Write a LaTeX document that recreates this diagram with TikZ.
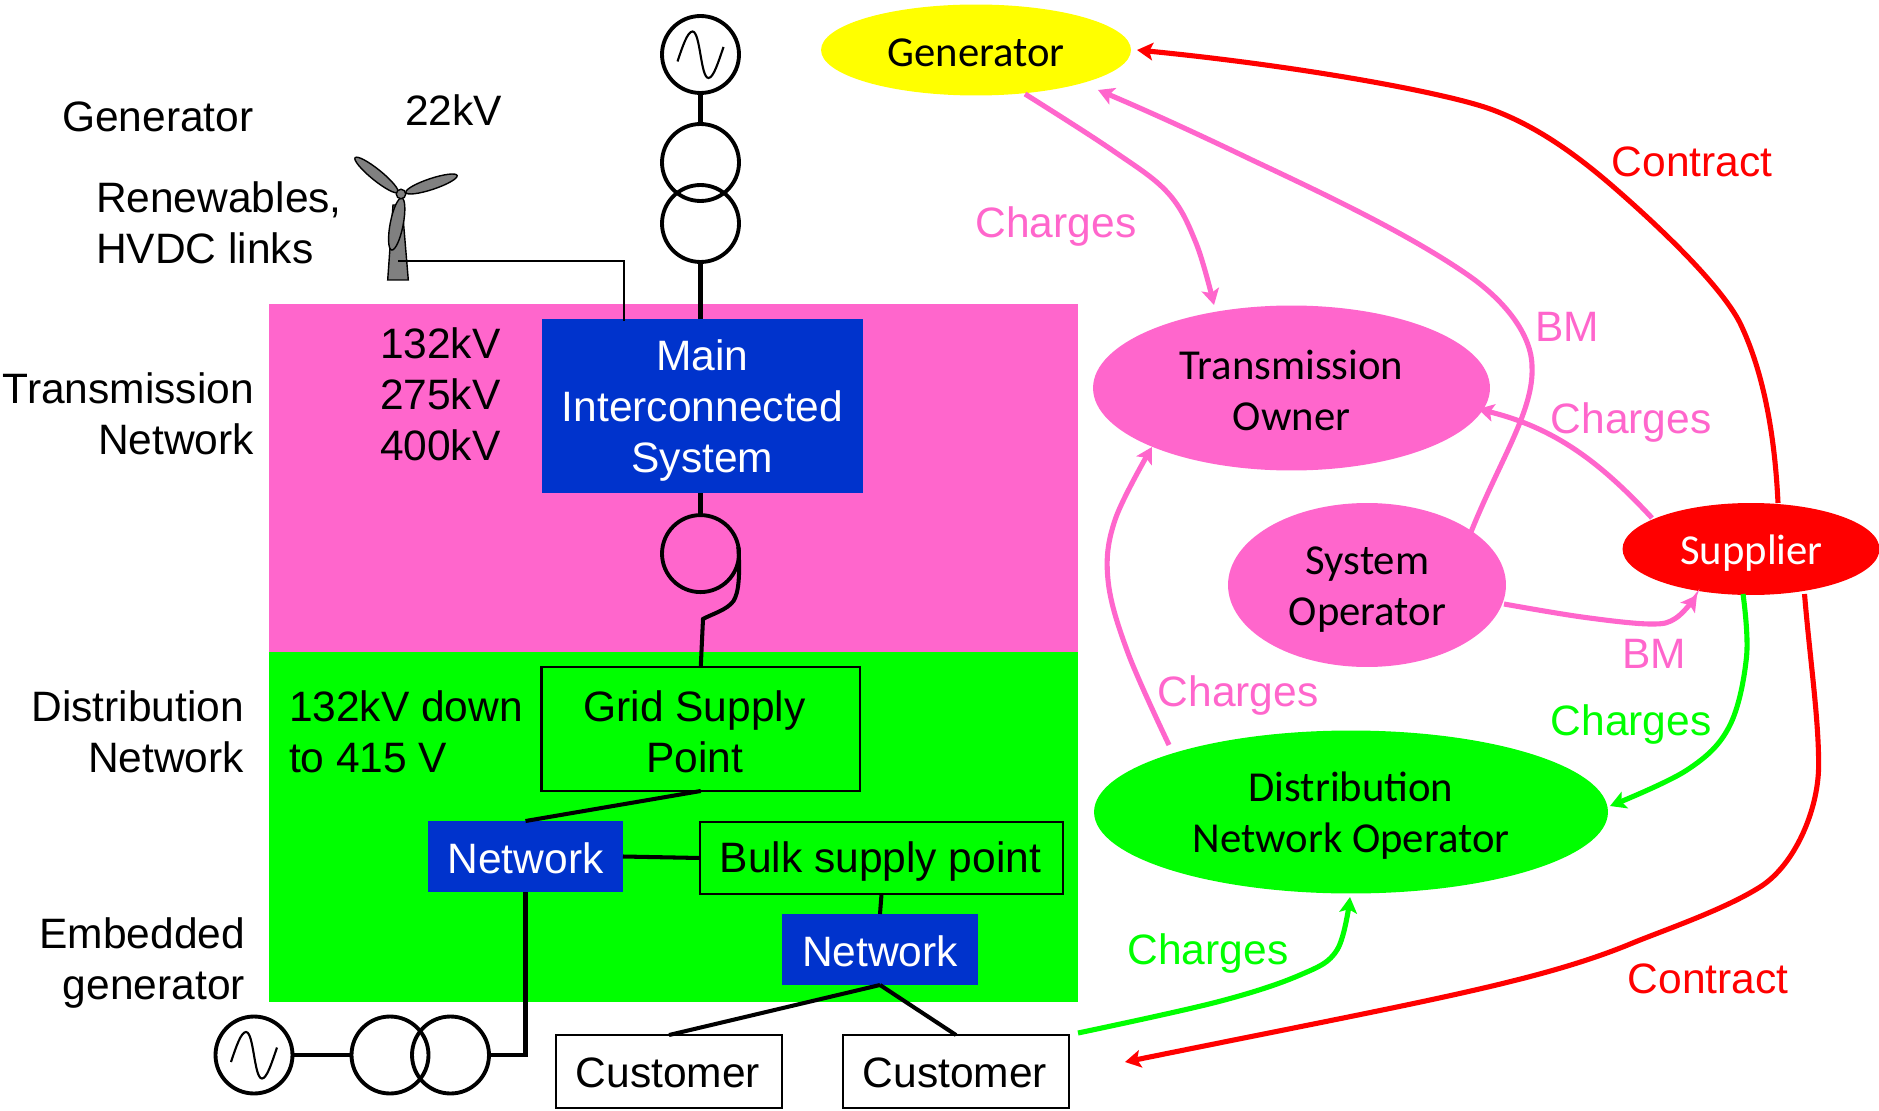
\documentclass[tikz,border=0pt]{standalone}
\usepackage{fontspec}
\setmainfont{Liberation Sans}
\newfontfamily\calfnt{Carlito}
\usetikzlibrary{shapes.geometric,arrows.meta}
\definecolor{pk}{HTML}{FF66CC}
\definecolor{bl}{HTML}{0033CC}
\definecolor{gr}{HTML}{00FF00}
\definecolor{rd}{HTML}{FF0000}
\definecolor{yl}{HTML}{FFFF00}
\newcommand\acwave[1]{\draw[wavestyle,shift={(#1.center)}] (-23,7) .. controls (-18,-8) and (-13,-23) .. (-8,-23) .. controls (0,-23) and (0,23.5) .. (8,23.5) .. controls (13,23.5) and (18,7) .. (23,-7.5);}
\tikzset{
  x=0.02cm,y=-0.02cm,
  txt/.style={font=\fontsize{24.2}{29}\selectfont,inner sep=0,outer sep=0,align=center},
  lefttxt/.style={txt,align=left,anchor=west},
  righttxt/.style={txt,align=right,anchor=east},
  area/.style={inner sep=0,outer sep=0,draw=none},
  bluebox/.style={inner sep=0,outer sep=0,fill=bl},
  greenbox/.style={inner sep=0,outer sep=0,draw=black,line width=1.2pt,fill=none},
  whitebox/.style={inner sep=0,outer sep=0,draw=black,line width=1.2pt,fill=white},
  party/.style={ellipse,inner sep=0,outer sep=0},
  partytxt/.style={font=\calfnt\fontsize{24.3}{29}\selectfont,inner sep=0,outer sep=0,align=center},
  ringnode/.style={circle,draw=black,line width=2.2pt,minimum size=1.54cm,inner sep=0,outer sep=0},
  wire/.style={draw=black,line width=2.3pt},
  wavestyle/.style={draw=black,line width=1.2pt},
  flow/.style={line width=2.9pt,-{Stealth[length=9pt,width=10pt,inset=2pt]}},
  blade/.style={ellipse,draw=black,fill=gray,line width=0.8pt,inner sep=0,outer sep=0},
}
\begin{document}
\begin{tikzpicture}
\useasboundingbox (0,0) rectangle (1879,1111);
% background areas
\node[area,fill=pk,minimum width=16.18cm,minimum height=6.96cm] (pinkarea) at (673.5,478) {};
\node[area,fill=gr,minimum width=16.18cm,minimum height=7cm] (greenarea) at (673.5,827) {};
% boxes
\node[bluebox,minimum width=6.42cm,minimum height=3.48cm] (mis) at (702.5,406) {};
\node[txt,text=white] (mistext) at (702.5,410.5) {Main\\Interconnected\\System};
\node[greenbox,minimum width=6.37cm,minimum height=2.48cm] (gsp) at (700.75,729) {};
\node[txt] (gsptext) at (694.5,732) {Grid Supply\\Point};
\node[bluebox,minimum width=3.9cm,minimum height=1.42cm] (net1) at (525.5,856.5) {};
\node[txt,text=white] (net1text) at (525.5,858) {Network};
\node[greenbox,minimum width=7.25cm,minimum height=1.45cm] (bulk) at (881.5,858) {};
\node[txt] (bulktext) at (880.5,861) {Bulk supply point};
\node[bluebox,minimum width=3.92cm,minimum height=1.42cm] (net2) at (880,949.5) {};
\node[txt,text=white] (net2text) at (880,951) {Network};
\node[whitebox,minimum width=4.52cm,minimum height=1.46cm] (cust1) at (669,1071.5) {};
\node[txt] (cust1text) at (668,1073) {Customer};
\node[whitebox,minimum width=4.52cm,minimum height=1.46cm] (cust2) at (956,1071.5) {};
\node[txt] (cust2text) at (955,1073) {Customer};
% rings
\node[ringnode] (gtop) at (700.5,54.5) {};
\node[ringnode] (t1) at (700.5,162.5) {};
\node[ringnode] (t2) at (700.5,223.5) {};
\node[ringnode] (t3) at (700.5,553.6) {};
\node[ringnode] (gbot) at (254,1055) {};
\node[ringnode] (b1) at (390,1055) {};
\node[ringnode] (b2) at (450.5,1055) {};
\acwave{gtop}
\acwave{gbot}
% black connectors
\draw[wire] (gtop.south) -- (t1.north);
\draw[wire] (t2.south) -- (t2.south |- mis.north);
\draw[wire] (t3.north |- mis.south) -- (t3.north);
\draw[wire] (t3.10) .. controls (740,575) and (739,592) .. (733.5,601) .. controls (727,610) and (712,614) .. (703,619) -- (gsp.north);
\draw[wire] (gsp.south) -- (net1.north);
\draw[wire] (net1.east) -- (bulk.west);
\draw[wire] (bulk.south) -- (net2.north);
\draw[wire] (net1.south) |- (b2.east);
\draw[wire] (gbot.east) -- (b1.west);
\draw[wire] (net2.south) -- (cust1.north);
\draw[wire] (net2.south) -- (cust2.north);
% wind turbine
\coordinate (tb) at (398,261);
\path[draw=black,fill=gray,line width=0.8pt] (387.7,280) -- (393,205) -- (402,205) -- (408.3,280) -- cycle;
\node[blade,rotate=79,minimum width=1.06cm,minimum height=0.26cm] (bladeA) at (396.7,224) {};
\node[blade,rotate=-39,minimum width=1.1cm,minimum height=0.22cm] (bladeB) at (376.5,175) {};
\node[blade,rotate=18.4,minimum width=1.08cm,minimum height=0.22cm] (bladeC) at (431.5,184) {};
\node[circle,draw=black,fill=gray,line width=0.8pt,minimum size=0.19cm,inner sep=0] (hub) at (401,194) {};
\draw[draw=black,line width=1pt] (tb) -| ([shift={(-78.5,2)}]mis.north);
% parties
\node[party,fill=yl,minimum width=6.2cm,minimum height=1.82cm] (gen) at (976,50) {};
\node[partytxt] (gentext) at (976,52.5) {Generator};
\node[party,fill=pk,minimum width=7.94cm,minimum height=3.3cm] (to) at (1291.5,388) {};
\node[partytxt] (totext) at (1291.5,390) {Transmission\\Owner};
\node[party,fill=pk,minimum width=5.56cm,minimum height=3.28cm] (so) at (1367,585) {};
\node[partytxt] (sotext) at (1367.5,590) {System\\Operator};
\node[party,fill=rd,minimum width=5.14cm,minimum height=1.84cm] (sup) at (1751,549) {};
\node[partytxt,text=white] (suptext) at (1751.5,553) {Supplier};
\node[party,fill=gr,minimum width=10.28cm,minimum height=3.26cm] (dno) at (1351,812) {};
\node[partytxt] (dnotext) at (1351,816) {Distribution\\Network Operator};
% flows
\draw[flow,rd] ([shift={(27,-46)}]sup.center) .. controls (1775,440) and (1765,375) .. (1740,323) .. controls (1720,284) and (1657,225) .. (1617,190) .. controls (1577,155) and (1538,127) .. (1493,110) .. controls (1448,93) and (1300,66) .. ([shift={(161,0)}]gen.center);
\draw[flow,pk] plot[smooth,tension=.6] coordinates {([shift={(49,44)}]gen.center) (1112,150) (1168,193) (1196,243) ([shift={(-77.5,-83)}]to.center)};
\draw[flow,pk] ([shift={(104,-53)}]so.center) .. controls (1500,460) and (1534,410) .. (1532,367) .. controls (1532,335) and (1505,300) .. (1465,273) .. controls (1405,232) and (1320,192) .. (1252,160) .. controls (1200,135) and (1150,112) .. ([shift={(122,40)}]gen.center);
\draw[flow,pk] ([shift={(-99,-31)}]sup.center) .. controls (1600,462) and (1555,428) .. ([shift={(186.5,21)}]to.center);
\draw[flow,pk] plot[smooth,tension=.6] coordinates {([shift={(-182,-67)}]dno.center) (1128,653) (1108,580) (1115,520) ([shift={(-139.5,59)}]to.center)};
\draw[flow,pk] plot[smooth,tension=.6] coordinates {([shift={(137,19)}]so.center) (1582,617) (1650,624) (1676,618) ([shift={(-54,46)}]sup.center)};
\draw[flow,gr] plot[smooth,tension=.6] coordinates {([shift={(-8,45)}]sup.center) (1746.5,657) (1729,727) (1687,770) ([shift={(259,-6)}]dno.center)};
\draw[flow,gr] plot[smooth,tension=.6] coordinates {([shift={(122,-38.5)}]cust2.center) (1217,1002) (1300,975) (1337,950) ([shift={(-1,85)}]dno.center)};
\draw[flow,rd] ([shift={(53.5,45)}]sup.center) .. controls (1810,660) and (1819,720) .. (1818.6,767) .. controls (1818,810) and (1795,865) .. (1760,887) .. controls (1725,909) and (1670,928) .. (1635,942) .. controls (1540,982) and (1420,1002) .. ([shift={(169,-9.5)}]cust2.center);
% left labels
\node[lefttxt] (lgen) at (62,117) {Generator};
\node[lefttxt] (l22) at (405,110) {22kV};
\node[lefttxt] (lren) at (96,223) {Renewables,\\HVDC links};
\node[righttxt] (ltn) at (254,414) {Transmission\\Network};
\node[righttxt] (ldn) at (244,732) {Distribution\\Network};
\node[righttxt] (leg) at (245,963) {Embedded\\generator};
\node[lefttxt] (lkv) at (380,394) {132kV\\275kV\\400kV};
\node[lefttxt] (ldown) at (289,732) {132kV down\\to 415 V};
% flow labels
\node[txt,text=pk] (c1) at (1056,227) {Charges};
\node[txt,text=pk] (bm1) at (1567.5,327) {BM};
\node[txt,text=pk] (c2) at (1631,423) {Charges};
\node[txt,text=pk] (bm2) at (1654,654) {BM};
\node[txt,text=pk] (c3) at (1238,696) {Charges};
\node[txt,text=gr] (c4) at (1631,725) {Charges};
\node[txt,text=gr] (c5) at (1208,953) {Charges};
\node[txt,text=rd] (k1) at (1692,162) {Contract};
\node[txt,text=rd] (k2) at (1708,979) {Contract};
\end{tikzpicture}
\end{document}
